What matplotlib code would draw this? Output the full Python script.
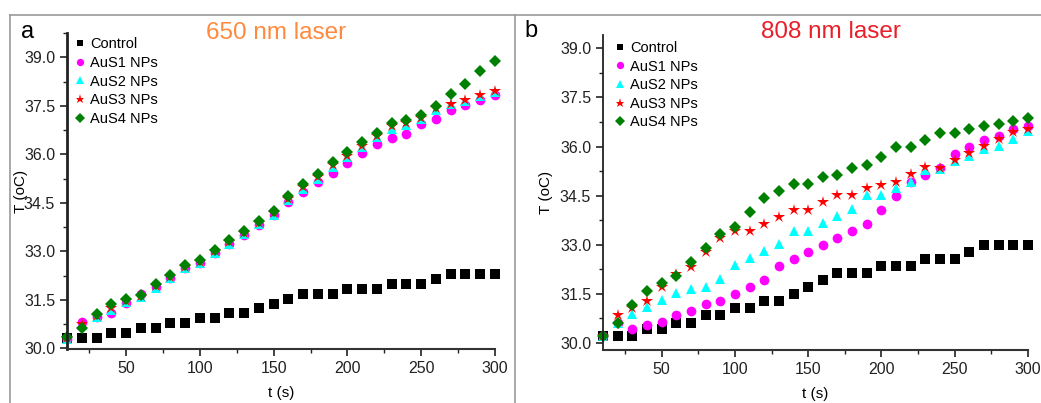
import numpy as np
import matplotlib
matplotlib.use("Agg")
import matplotlib.pyplot as plt
from matplotlib.lines import Line2D
from matplotlib.ticker import MultipleLocator

plt.rcParams['font.family'] = ['Liberation Sans', 'DejaVu Sans']

#%% data
t = np.arange(10, 301, 10)
labels = ['Control', 'AuS1 NPs', 'AuS2 NPs', 'AuS3 NPs', 'AuS4 NPs']

# 650 nm laser
a_control = [30.33, 30.33, 30.33, 30.48, 30.48, 30.63, 30.63, 30.78, 30.78, 30.94,
             30.94, 31.08, 31.08, 31.24, 31.38, 31.54, 31.69, 31.69, 31.69, 31.84,
             31.84, 31.84, 31.99, 31.99, 31.99, 32.14, 32.29, 32.29, 32.29, 32.29]
a_aus1 = [30.30, 30.82, 30.98, 31.08, 31.39, 31.67, 31.89, 32.17, 32.48, 32.63,
          32.94, 33.23, 33.51, 33.82, 34.13, 34.54, 34.82, 35.14, 35.43, 35.73,
          36.03, 36.32, 36.50, 36.64, 36.94, 37.09, 37.38, 37.53, 37.69, 37.84]
a_aus2 = [30.30, 30.72, 30.96, 31.20, 31.42, 31.58, 31.88, 32.18, 32.48, 32.63,
          32.95, 33.22, 33.53, 33.83, 34.12, 34.58, 34.93, 35.25, 35.62, 35.92,
          36.22, 36.52, 36.78, 36.92, 37.08, 37.38, 37.55, 37.66, 37.80, 37.93]
a_aus3 = [30.33, 30.75, 31.00, 31.25, 31.45, 31.62, 31.92, 32.22, 32.52, 32.68,
          33.00, 33.28, 33.58, 33.88, 34.17, 34.62, 34.98, 35.30, 35.67, 35.96,
          36.26, 36.57, 36.86, 36.97, 37.12, 37.42, 37.57, 37.68, 37.84, 37.97]
a_aus4 = [30.34, 30.64, 31.05, 31.37, 31.52, 31.65, 31.98, 32.28, 32.59, 32.73,
          33.05, 33.34, 33.64, 33.94, 34.24, 34.71, 35.08, 35.39, 35.76, 36.06,
          36.37, 36.67, 36.97, 37.05, 37.20, 37.50, 37.85, 38.16, 38.58, 38.88]

# 808 nm laser
b_control = [30.21, 30.21, 30.21, 30.41, 30.41, 30.62, 30.62, 30.84, 30.84, 31.05,
             31.05, 31.29, 31.29, 31.49, 31.70, 31.91, 32.13, 32.13, 32.13, 32.34,
             32.34, 32.34, 32.56, 32.56, 32.56, 32.77, 32.98, 32.98, 32.98, 32.98]
b_aus1 = [30.21, 30.62, 30.43, 30.54, 30.64, 30.85, 30.96, 31.18, 31.29, 31.49,
          31.71, 31.92, 32.35, 32.55, 32.78, 32.99, 33.21, 33.42, 33.64, 34.06,
          34.49, 34.91, 35.14, 35.34, 35.78, 36.00, 36.21, 36.31, 36.54, 36.64]
b_aus2 = [30.21, 30.62, 30.87, 31.08, 31.31, 31.51, 31.64, 31.72, 31.94, 32.38,
          32.58, 32.81, 33.02, 33.43, 33.43, 33.66, 33.88, 34.08, 34.52, 34.52,
          34.73, 34.93, 35.27, 35.32, 35.57, 35.70, 35.92, 36.02, 36.23, 36.46]
b_aus3 = [30.21, 30.85, 31.05, 31.29, 31.70, 32.10, 32.33, 32.77, 33.20, 33.42,
          33.42, 33.64, 33.86, 34.06, 34.06, 34.29, 34.51, 34.51, 34.73, 34.83,
          34.93, 35.16, 35.37, 35.35, 35.60, 35.80, 36.02, 36.23, 36.43, 36.55]
b_aus4 = [30.21, 30.62, 31.16, 31.59, 31.82, 32.04, 32.46, 32.89, 33.33, 33.55,
          34.00, 34.42, 34.65, 34.85, 34.85, 35.08, 35.14, 35.34, 35.44, 35.67,
          35.98, 35.98, 36.21, 36.41, 36.41, 36.54, 36.64, 36.70, 36.77, 36.87]

#%% styles
markers = ['s', 'o', '^', '*', 'D']
colors = ['black', '#ff00ff', '#00ffff', '#ff0000', '#008000']
sizes = [6.5, 7, 7.5, 9, 6.5]

fig = plt.figure(figsize=(10.41, 4.03), dpi=100)

# gray panel frames
for xs, ys in [([10, 10], [403, 15]), ([10, 1041], [15, 15]), ([514.5, 514.5], [15, 403])]:
    fig.add_artist(Line2D(np.array(xs)/1041, 1 - np.array(ys)/403,
                          transform=fig.transFigure, color='#9a9a9a', lw=1.2))

def panel(rect, series, ylim, letter, title, tcolor, lxy, spw, ypad):
    ax = fig.add_axes(rect)
    for y, m, c, s, lab in zip(series, markers, colors, sizes, labels):
        ax.plot(t, y, linestyle='none', marker=m, color=c, markersize=s,
                markeredgewidth=0, label=lab, clip_on=False)
    ax.set_xlim(10, 300)
    ax.set_ylim(*ylim)
    ax.xaxis.set_major_locator(MultipleLocator(50))
    ax.xaxis.set_minor_locator(MultipleLocator(25))
    ax.yaxis.set_major_locator(MultipleLocator(1.5))
    ax.yaxis.set_minor_locator(MultipleLocator(0.75))
    ax.yaxis.set_major_formatter(matplotlib.ticker.FormatStrFormatter('%.1f'))
    for sp in ['top', 'right']:
        ax.spines[sp].set_visible(False)
    ax.spines['left'].set_linewidth(spw)
    ax.spines['bottom'].set_linewidth(1.5)
    ax.spines['left'].set_color('#222222')
    ax.spines['bottom'].set_color('#333333')
    ax.tick_params(which='major', direction='out', length=5, width=1.2,
                   labelsize=11.5, colors='#222222')
    ax.tick_params(which='minor', direction='out', length=3, width=1.0, colors='#222222')
    ax.set_xlabel('t (s)', fontsize=11, labelpad=7)
    ax.set_ylabel('T (oC)', fontsize=11, labelpad=ypad)
    leg = ax.legend(loc='upper left', bbox_to_anchor=lxy, frameon=False,
                    fontsize=10.5, handletextpad=0.1, labelspacing=0.32,
                    borderaxespad=0, handlelength=1.2, markerscale=0.75)
    fig.text(letter[1], letter[2], letter[0], fontsize=17, va='center', ha='left')
    fig.text(title[1], title[2], title[0], fontsize=17.5, color=tcolor,
             va='center', ha='center')
    return ax

panel([67/1041, 54/403, 428/1041, 316/403],
      [a_control, a_aus1, a_aus2, a_aus3, a_aus4], (29.98, 39.75),
      ('a', 21/1041, 1 - 32/403), ('650 nm laser', 276/1041, 1 - 33/403),
      '#ff8a3d', (-0.004, 1.005), 2.0, -3)
panel([603/1041, 53/403, 425/1041, 315/403],
      [b_control, b_aus1, b_aus2, b_aus3, b_aus4], (29.78, 39.41),
      ('b', 524/1041, 1 - 31/403), ('808 nm laser', 831/1041, 1 - 32/403),
      '#e8202a', (0.006, 1.0), 1.3, 5)

fig.savefig('out.png', dpi=100)
